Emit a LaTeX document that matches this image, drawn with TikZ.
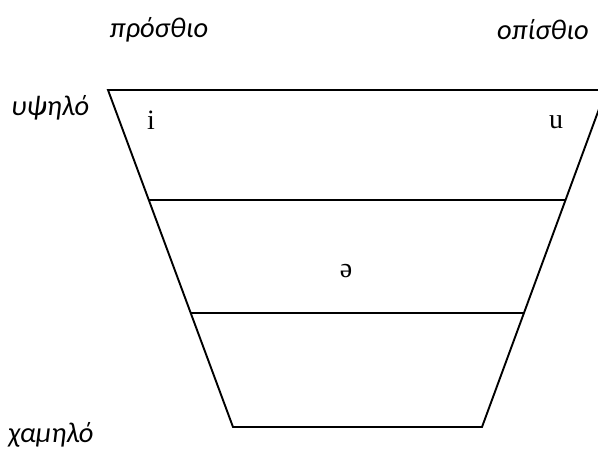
\documentclass[tikz,border=0pt]{standalone}
\usepackage{fontspec}
\setmainfont{Liberation Serif}
\newfontfamily\labfont{Carlito}
\begin{document}
\begin{tikzpicture}[x=1pt,y=-1pt,
  lab/.style={font=\labfont\itshape\fontsize{28.5}{32}\selectfont, inner sep=0pt},
  vow/.style={font=\fontsize{28}{32}\selectfont, inner sep=0pt},
  edge/.style={line width=1.9pt, line join=miter}]
\useasboundingbox (0,0) rectangle (598,451);
\coordinate (tl) at (108,90);
\coordinate (tr) at (606,90);
\coordinate (bl) at (233,427);
\coordinate (br) at (482,427);
\coordinate (ml1) at (148.8,200);
\coordinate (mr1) at (565.5,200);
\coordinate (ml2) at (190.7,313);
\coordinate (mr2) at (524,313);
\begin{scope}
\clip (0,0) rectangle (598,451);
\draw[edge] (tr) -- (tl) -- (bl) -- (br) -- (tr);
\draw[edge] (ml1) -- (mr1);
\draw[edge] (ml2) -- (mr2);
\end{scope}
\node[lab] (front) at (159,30) {πρόσθιο};
\node[lab] (back) at (543,30) {οπίσθιο};
\node[lab, anchor=west] (high) at (11,108) {υψηλό};
\node[lab, anchor=west] (low) at (8,435) {χαμηλό};
\node[vow] (i) at (151,120) {i};
\node[vow] (u) at (556,122) {u};
\node[vow] (schwa) at (346,271) {ə};
\end{tikzpicture}
\end{document}
